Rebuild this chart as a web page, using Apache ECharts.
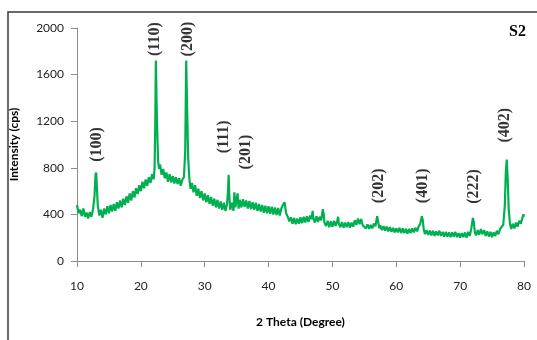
<!DOCTYPE html>
<html>
<head>
<meta charset="utf-8">
<script src="https://cdn.jsdelivr.net/npm/echarts@6/dist/echarts.min.js"></script>
<style>
  html, body { margin: 0; padding: 0; background: #fff; }
  #main { width: 537px; height: 340px; }
</style>
</head>
<body>
<div id="main"></div>
<script>
// XRD scan, sample S2 : [2 theta, counts]
var scanLow = [
  [10.0,480],[10.25,410],[10.5,440],[10.75,385],[11.0,450],[11.25,380],[11.5,415],[11.75,365],
  [12.0,420],[12.25,380],[12.5,440],[12.75,560],[12.9,740],[13.0,760],[13.1,650],[13.25,480],
  [13.5,390],[13.75,440],[14.0,370],[14.25,450],[14.5,400],[14.75,470],[15.0,410],[15.25,480],
  [15.5,425],[15.75,490],[16.0,430],[16.25,505],[16.5,450],[16.75,520],[17.0,460],[17.25,535],
  [17.5,480],[17.75,555],[18.0,500],[18.25,580],[18.5,520],[18.75,600],[19.0,545],[19.25,625],
  [19.5,575],[19.75,650],[20.0,600],[20.25,680],[20.5,625],[20.75,700],[21.0,645],[21.25,720],
  [21.5,670],[21.75,745],[22.0,700],[22.15,800],[22.25,1150],[22.35,1720],[22.45,1400],[22.55,1150],
  [22.7,860],[22.85,790],[23.0,830],[23.25,740],[23.5,790],[23.75,710],[24.0,760],[24.25,680],
  [24.5,745],[24.75,675],[25.0,730],[25.25,665],[25.5,720],[25.75,660],[26.0,710],[26.25,645],
  [26.5,700],[26.75,720],[26.95,950],[27.1,1720],[27.25,1300],[27.4,900],[27.6,700],[27.8,620]
];
var scanMid = [
  [28.0,670],[28.25,590],[28.5,650],[28.75,560],[29.0,620],[29.25,540],[29.5,600],[29.75,520],
  [30.0,580],[30.25,505],[30.5,565],[30.75,490],[31.0,550],[31.25,475],[31.5,535],[31.75,460],
  [32.0,525],[32.25,450],[32.5,510],[32.75,440],[33.0,500],[33.25,430],[33.5,490],[33.65,600],
  [33.75,740],[33.85,560],[34.0,440],[34.25,500],[34.5,430],[34.65,590],[34.8,460],[35.0,530],
  [35.15,580],[35.3,450],[35.5,525],[35.75,460],[36.0,530],[36.25,465],[36.5,520],[36.75,450],
  [37.0,515],[37.25,445],[37.5,505],[37.75,440],[38.0,500],[38.25,430],[38.5,490],[38.75,425],
  [39.0,480],[39.25,415],[39.5,475],[39.75,410],[40.0,470],[40.25,405],[40.5,465],[40.75,400],
  [41.0,460],[41.25,395],[41.5,455],[41.75,390],[42.0,450],[42.25,480],[42.5,505],[42.75,410],
  [43.0,380],[43.25,340],[43.5,375],[43.75,320],[44.0,370],[44.25,315],[44.5,365],[44.75,320],
  [45.0,375],[45.25,325],[45.5,380],[45.75,330],[46.0,385],[46.25,335],[46.5,390],[46.75,360],
  [46.9,430],[47.0,370],[47.25,330],[47.5,385],[47.75,335],[48.0,380],[48.25,350],[48.5,445],
  [48.65,400],[48.75,330],[49.0,300],[49.25,345],[49.5,290],[49.75,340],[50.0,295],[50.25,345],
  [50.5,300],[50.75,345],[50.9,380],[51.0,320],[51.25,290],[51.5,335],[51.75,285],[52.0,330],
  [52.25,290],[52.5,335],[52.75,285],[53.0,330],[53.25,295],[53.5,350],[53.75,310],[54.0,365],
  [54.25,315],[54.5,360],[54.75,305],[55.0,320],[55.25,280],[55.5,315],[55.75,275],[56.0,310]
];
var scanHigh = [
  [56.25,280],[56.5,320],[56.75,300],[57.0,385],[57.15,340],[57.35,280],[57.5,305],[57.75,265],
  [58.0,300],[58.25,260],[58.5,295],[58.75,255],[59.0,290],[59.25,250],[59.5,285],[59.75,245],
  [60.0,280],[60.25,245],[60.5,285],[60.75,240],[61.0,280],[61.25,240],[61.5,275],[61.75,235],
  [62.0,275],[62.25,240],[62.5,280],[62.75,245],[63.0,285],[63.25,255],[63.5,295],[63.75,320],
  [64.0,385],[64.15,350],[64.3,270],[64.5,230],[64.75,265],[65.0,225],[65.25,260],[65.5,220],
  [65.75,260],[66.0,215],[66.25,255],[66.5,220],[66.75,260],[67.0,215],[67.25,250],[67.5,210],
  [67.75,250],[68.0,210],[68.25,245],[68.5,205],[68.75,245],[69.0,210],[69.25,250],[69.5,205],
  [69.75,240],[70.0,200],[70.25,240],[70.5,205],[70.75,245],[71.0,200],[71.25,250],[71.5,215],
  [71.75,280],[72.0,370],[72.15,330],[72.3,245],[72.5,220],[72.75,265],[73.0,225],[73.25,275],
  [73.5,230],[73.75,265],[74.0,215],[74.25,255],[74.5,210],[74.75,250],[75.0,205],[75.25,245],
  [75.5,215],[75.75,260],[76.0,230],[76.25,275],[76.5,270],[76.75,310],[77.0,480],[77.15,760],
  [77.3,870],[77.45,700],[77.6,450],[77.8,320],[78.0,275],[78.25,320],[78.5,280],[78.75,330],
  [79.0,295],[79.25,345],[79.5,320],[79.75,370],[79.9,400],[80.0,380]
];

// peak indices and where their text sits
var hklNames   = ['(100)', '(110)', '(200)', '(111)', '(201)', '(202)', '(401)', '(222)', '(402)'];
var hklAngles  = [13.1, 22.2, 27.3, 33.0, 36.5, 57.2, 64.1, 72.2, 77.0];
var hklHeights = [1000, 1905, 1905, 1065, 935, 645, 645, 640, 1165];

var xTicks = [10, 20, 30, 40, 50, 60, 70, 80];
var yTicks = [0, 400, 800, 1200, 1600, 2000];

var scan = scanLow.concat(scanMid, scanHigh);
var hklPoints = [];
for (var i = 0; i < hklNames.length; i++) {
  hklPoints.push({ name: hklNames[i], value: [hklAngles[i], hklHeights[i]] });
}

var myChart = echarts.init(document.getElementById('main'), null, { renderer: 'canvas' });
var tickFont = { fontFamily: 'Lato, "Liberation Sans", sans-serif', fontSize: 12, color: '#222' };

myChart.setOption({
  animation: false,
  backgroundColor: '#fff',
  title: {
    text: 'S2', right: 6, top: 19,
    textStyle: { fontFamily: '"Liberation Serif", serif', fontWeight: 'bold', fontSize: 16, color: '#000' }
  },
  graphic: [{
    type: 'rect', shape: { x: 8, y: 12, width: 700, height: 500 },
    style: { fill: 'none', stroke: '#3a3a3a', lineWidth: 1.5 }, silent: true, z: -1
  }],
  grid: { left: 75, right: 13, top: 28, bottom: 79 },
  xAxis: {
    type: 'value', min: xTicks[0], max: xTicks[xTicks.length - 1], interval: 10,
    name: '2 Theta (Degree)', nameLocation: 'middle', nameGap: 55,
    nameTextStyle: { fontFamily: 'Lato, "Liberation Sans", sans-serif', fontWeight: 'bold', fontSize: 12, color: '#000' },
    axisLine: { lineStyle: { color: '#8c8c8c', width: 1 } },
    axisTick: { length: 6, lineStyle: { color: '#8c8c8c' } },
    axisLabel: Object.assign({ margin: 19, formatter: function (v) { return String(v); } }, tickFont),
    splitLine: { show: false }
  },
  yAxis: {
    type: 'value', min: yTicks[0], max: yTicks[yTicks.length - 1], interval: 400,
    name: 'Intensity (cps)', nameLocation: 'middle', nameGap: 57, nameRotate: 90,
    nameTextStyle: { fontFamily: 'Lato, "Liberation Sans", sans-serif', fontWeight: 'bold', fontSize: 12, color: '#000' },
    axisLine: { show: true, lineStyle: { color: '#8c8c8c', width: 1 } },
    axisTick: { show: true, length: 6, lineStyle: { color: '#8c8c8c' } },
    axisLabel: Object.assign({ margin: 13, formatter: function (v) { return String(v); } }, tickFont),
    splitLine: { show: false }
  },
  series: [
    {
      type: 'line', data: scan, showSymbol: false, sampling: null,
      lineStyle: { color: '#00b050', width: 2.2 }, itemStyle: { color: '#00b050' }, silent: true
    },
    {
      type: 'scatter', data: hklPoints, symbolSize: 1, silent: true,
      itemStyle: { color: 'rgba(0,0,0,0)' },
      label: {
        show: true, position: 'inside', rotate: 90, formatter: '{b}',
        align: 'center', verticalAlign: 'middle',
        fontFamily: '"Liberation Serif", serif', fontWeight: 'bold', fontSize: 16, color: '#000'
      }
    }
  ]
});
</script>
</body>
</html>
